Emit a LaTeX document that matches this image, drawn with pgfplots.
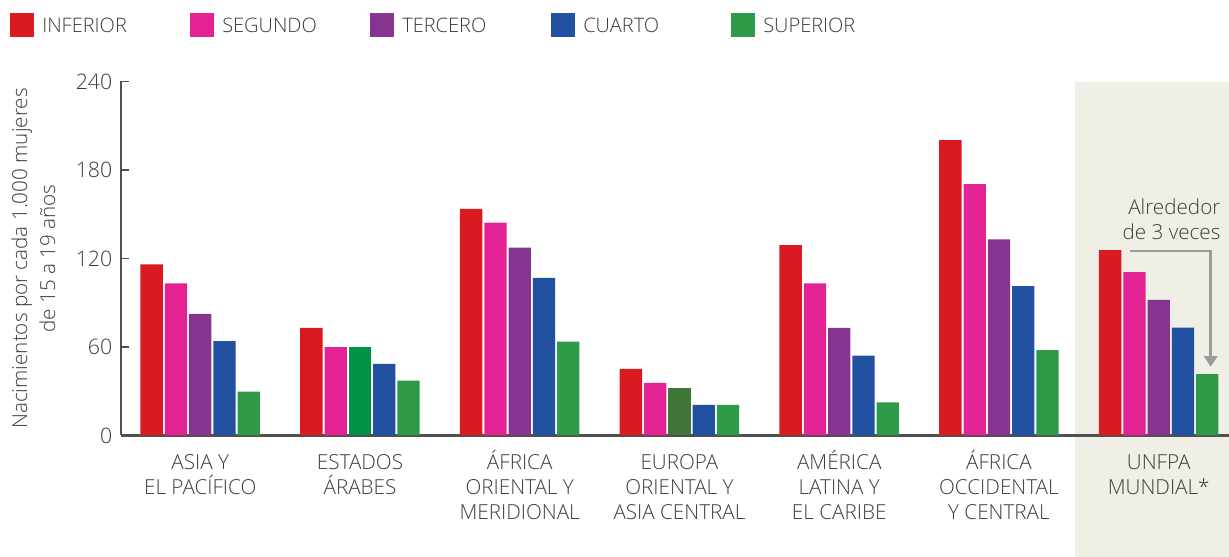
\documentclass[border=0pt]{standalone}
\usepackage{fontspec}
\IfFontExistsTF{Open Sans Light}{\setmainfont{Open Sans Light}}{\setmainfont{Open Sans}}
\usepackage{pgfplots}
\pgfplotsset{compat=1.18}
\usetikzlibrary{arrows.meta}

\definecolor{cInf}{HTML}{D91A21}
\definecolor{cSeg}{HTML}{E32393}
\definecolor{cTer}{HTML}{85358F}
\definecolor{cCua}{HTML}{2251A2}
\definecolor{cSup}{HTML}{2E9A48}
\definecolor{cSupA}{HTML}{009345}
\definecolor{cSupB}{HTML}{41763A}
\definecolor{bgtan}{HTML}{F0EFE6}
\definecolor{txt}{HTML}{3C3C3C}
\definecolor{axisgray}{HTML}{505050}
\definecolor{arrowgray}{HTML}{9B9B9D}

\newcommand{\lbl}{\fontsize{15}{19.5}\selectfont}
\newcommand{\st}{\rule{0pt}{25.3pt}}

\begin{document}
\begin{tikzpicture}
\path[use as bounding box] (0,0) rectangle (921.75pt,417.75pt);
% fondo de la columna UNFPA
\fill[bgtan] (806.25pt,0) rectangle (921.75pt,356.6pt);

% leyenda
\foreach \xx/\cc/\tt in {7.5/cInf/INFERIOR, 142.5/cSeg/SEGUNDO, 277.5/cTer/TERCERO, 413.25/cCua/CUARTO, 548.25/cSup/SUPERIOR}{
  \fill[\cc] (\xx pt,390pt) rectangle ++(18pt,18pt);
  \node[anchor=west, inner sep=0, text=txt, font=\lbl] at (\xx pt+24pt,399pt) {\tt};
}

\begin{axis}[
  at={(90.75pt,91.125pt)}, anchor=south west,
  scale only axis, width=831pt, height=265.5pt,
  xmin=-0.496, xmax=6.44, ymin=0, ymax=240,
  axis x line*=bottom, axis y line*=left,
  x axis line style={draw=axisgray, line width=1.8pt, -},
  y axis line style={draw=axisgray, line width=0.9pt, -},
  xtick={0,...,6},
  xticklabels={{\st ASIA Y\\EL PACÍFICO},{\st ESTADOS\\ÁRABES},{\st ÁFRICA\\ORIENTAL Y\\MERIDIONAL},{\st EUROPA\\ORIENTAL Y\\ASIA CENTRAL},{\st AMÉRICA\\LATINA Y\\EL CARIBE},{\st ÁFRICA\\OCCIDENTAL\\Y CENTRAL},{\st UNFPA\\MUNDIAL*}},
  xtick style={draw=none},
  ytick={0,60,...,240},
  ytick style={draw=axisgray, line width=0.9pt},
  tick align=inside, major tick length=6pt,
  xticklabel style={align=center, inner sep=0, anchor=north,
    font=\fontsize{15.5}{18.75}\selectfont, text=txt},
  yticklabel style={font=\fontsize{16}{19}\selectfont, text=txt, xshift=-3pt},
  /pgf/number format/assume math mode=true,
  ylabel={Nacimientos por cada 1.000 mujeres\\de 15 a 19 años},
  ylabel style={at={(axis description cs:-0.0790,0.5)}, anchor=center, align=center,
    font=\fontsize{15.5}{21}\selectfont, text=txt},
  clip=false,
]
\addplot[ybar, bar width=0.14, bar shift=-0.304, fill=cInf, draw=none]
  coordinates {(0,116.0) (1,72.9) (2,153.6) (3,45.2) (4,129.0) (5,200.2) (6,125.7)};
\addplot[ybar, bar width=0.14, bar shift=-0.152, fill=cSeg, draw=none]
  coordinates {(0,103.2) (1,59.9) (2,144.3) (3,35.7) (4,103.2) (5,170.4) (6,110.8)};
\addplot[ybar, bar width=0.14, bar shift=0, fill=cTer, draw=none]
  coordinates {(0,82.4) (2,127.3) (4,72.9) (5,132.9) (6,92.0)};
\addplot[ybar, bar width=0.14, bar shift=0, fill=cSupA, draw=none]
  coordinates {(1,59.9)};
\addplot[ybar, bar width=0.14, bar shift=0, fill=cSupB, draw=none]
  coordinates {(3,32.1)};
\addplot[ybar, bar width=0.14, bar shift=0.152, fill=cCua, draw=none]
  coordinates {(0,63.9) (1,48.6) (2,106.8) (3,20.8) (4,54.1) (5,101.2) (6,73.2)};
\addplot[ybar, bar width=0.14, bar shift=0.304, fill=cSup, draw=none]
  coordinates {(0,29.7) (1,37.2) (2,63.6) (3,20.8) (4,22.5) (5,57.8) (6,41.6)};
\end{axis}

% anotacion
\node[anchor=north east, align=right, inner sep=0, text=txt, font=\fontsize{15.5}{18.75}\selectfont] at (915.5pt,268.5pt) {Alrededor\\de 3 veces};
\draw[arrowgray, line width=2pt, -{Triangle[width=10pt,length=8pt]}] (847.5pt,229.5pt) -- (908pt,229.5pt) -- (908pt,142.7pt);
\end{tikzpicture}
\end{document}
